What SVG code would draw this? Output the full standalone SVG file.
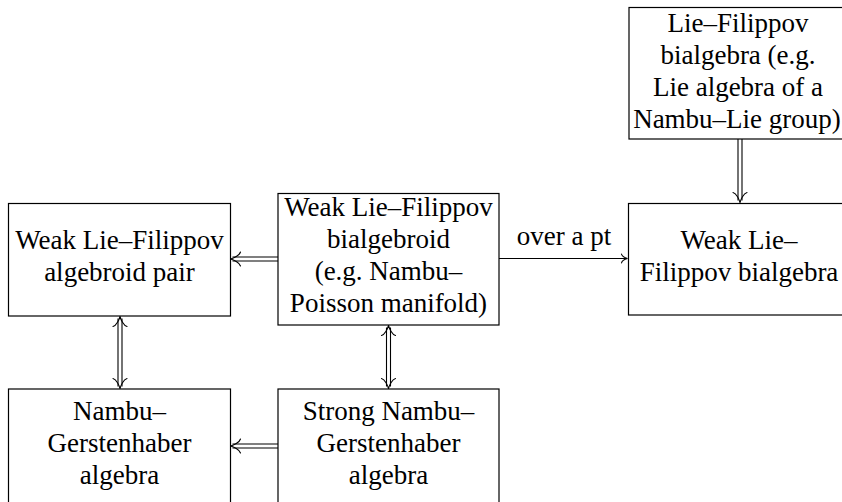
<svg xmlns="http://www.w3.org/2000/svg" xmlns:xlink="http://www.w3.org/1999/xlink" width="842" height="502" viewBox="0 0 842 502">
  <style>
    .box { fill: #ffffff; stroke: #000000; stroke-width: 1.2; }
    .lbl { font-family: "Liberation Serif", "Times New Roman", serif; font-size: 27px; fill: #000000; text-anchor: middle; }
    .ln { stroke: #000000; stroke-width: 1.1; fill: none; }
    .hd { stroke: #000000; stroke-width: 1.1; fill: none; stroke-linecap: round; }
  </style>
  <defs>
    <!-- arrowhead pointing left, tip at origin -->
    <path id="head" class="hd" d="M 10 -7 C 9 -3.5 3 -0.8 0 0 C 3 0.8 9 3.5 10 7"/>
    <path id="headS" class="hd" d="M 6 -4.5 C 5.5 -2 2 -0.5 0 0 C 2 0.5 5.5 2 6 4.5"/>
  </defs>
  <rect width="842" height="502" fill="#ffffff"/>

  <g id="connectors">
    <!-- B to A (double, left) -->
    <line class="ln" x1="278" y1="257" x2="232.5" y2="257"/>
    <line class="ln" x1="278" y1="261" x2="232.5" y2="261"/>
    <use xlink:href="#head" transform="translate(230.5,259)"/>
    <!-- F to E (double, left) -->
    <line class="ln" x1="278" y1="444" x2="232.5" y2="444"/>
    <line class="ln" x1="278" y1="448" x2="232.5" y2="448"/>
    <use xlink:href="#head" transform="translate(230.5,446)"/>
    <!-- A <-> E -->
    <line class="ln" x1="118" y1="318.5" x2="118" y2="386.5"/>
    <line class="ln" x1="122" y1="318.5" x2="122" y2="386.5"/>
    <use xlink:href="#head" transform="translate(120,316.5) rotate(90)"/>
    <use xlink:href="#head" transform="translate(120,388.5) rotate(-90)"/>
    <!-- B <-> F -->
    <line class="ln" x1="386.5" y1="327.5" x2="386.5" y2="386.5"/>
    <line class="ln" x1="390.5" y1="327.5" x2="390.5" y2="386.5"/>
    <use xlink:href="#head" transform="translate(388.5,325.5) rotate(90)"/>
    <use xlink:href="#head" transform="translate(388.5,388.5) rotate(-90)"/>
    <!-- D to C (double, down) -->
    <line class="ln" x1="738" y1="139" x2="738" y2="200.5"/>
    <line class="ln" x1="742" y1="139" x2="742" y2="200.5"/>
    <use xlink:href="#head" transform="translate(740,202.5) rotate(-90)"/>
    <!-- B to C (single, over a pt) -->
    <line class="ln" x1="499" y1="258.5" x2="627" y2="258.5"/>
    <use xlink:href="#headS" transform="translate(627.5,258.5) rotate(180)"/>
    <text class="lbl" x="564" y="245">over a pt</text>
  </g>

  <g id="nodeA">
    <rect class="box" x="8.5" y="203.5" width="222" height="112.5"/>
    <text class="lbl" x="119.5" y="249">Weak Lie–Filippov</text>
    <text class="lbl" x="119.5" y="281">algebroid pair</text>
  </g>

  <g id="nodeB">
    <rect class="box" x="278" y="193.5" width="221" height="131.5"/>
    <text class="lbl" x="388.5" y="216">Weak Lie–Filippov</text>
    <text class="lbl" x="388.5" y="248">bialgebroid</text>
    <text class="lbl" x="388.5" y="280">(e.g. Nambu–</text>
    <text class="lbl" x="388.5" y="312">Poisson manifold)</text>
  </g>

  <g id="nodeC">
    <rect class="box" x="628.5" y="203.5" width="224" height="111.5"/>
    <text class="lbl" x="739" y="249">Weak Lie–</text>
    <text class="lbl" x="739" y="281">Filippov bialgebra</text>
  </g>

  <g id="nodeD">
    <rect class="box" x="629" y="7.5" width="224" height="131.5"/>
    <text class="lbl" x="738" y="32">Lie–Filippov</text>
    <text class="lbl" x="738" y="64">bialgebra (e.g.</text>
    <text class="lbl" x="738" y="96">Lie algebra of a</text>
    <text class="lbl" x="737" y="128">Nambu–Lie group)</text>
  </g>

  <g id="nodeE">
    <rect class="box" x="8.5" y="389" width="222" height="116"/>
    <text class="lbl" x="119.5" y="420">Nambu–</text>
    <text class="lbl" x="119.5" y="452">Gerstenhaber</text>
    <text class="lbl" x="119.5" y="484">algebra</text>
  </g>

  <g id="nodeF">
    <rect class="box" x="278" y="389" width="221" height="116"/>
    <text class="lbl" x="388.5" y="420">Strong Nambu–</text>
    <text class="lbl" x="388.5" y="452">Gerstenhaber</text>
    <text class="lbl" x="388.5" y="484">algebra</text>
  </g>
</svg>
